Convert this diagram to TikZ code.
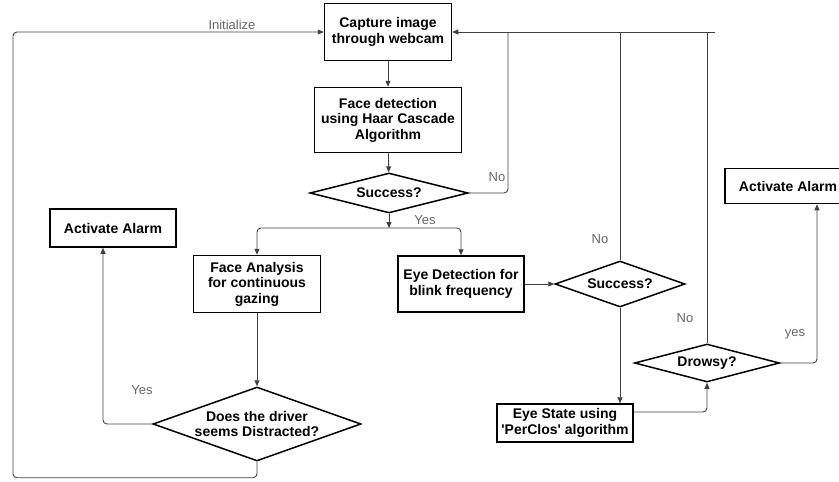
\documentclass[tikz,border=0pt]{standalone}
\usepackage{fontspec}
\setmainfont{Liberation Sans}
\usetikzlibrary{shapes.geometric,arrows.meta}

\begin{document}
\begin{tikzpicture}[x=1pt,y=-1pt]
    \tikzstyle{box}=[draw=black,line width=1.5pt,rectangle,align=center,inner sep=2pt,
        font=\bfseries\fontsize{14}{15.5}\selectfont]
    \tikzstyle{decision}=[draw=black,line width=1.5pt,diamond,align=center,inner sep=0pt,
        font=\bfseries\fontsize{14}{15.5}\selectfont]
    \tikzstyle{flow}=[draw=black!75,line width=0.9pt,rounded corners=4pt]
    \tikzstyle{tip}=[-{Triangle[length=6pt,width=5pt]}]
    \tikzstyle{lbl}=[text=black!60,font=\fontsize{13}{14}\selectfont,inner sep=0pt]

    \useasboundingbox (0,0) rectangle (839,482);
    \clip (0,0) rectangle (839,482);

    \node[box,minimum width=127,minimum height=57] at (388,32) (capture) {Capture image\\through webcam};
    \node[box,minimum width=147,minimum height=65] at (388,120) (facedet) {Face detection\\using Haar Cascade\\Algorithm};
    \node[decision,aspect=3.9,minimum width=158,minimum height=40] at (389,193) (succ1) {Success?};
    \node[box,minimum width=127,minimum height=57] at (257,284) (faceana) {Face Analysis\\for continuous\\gazing};
    \node[box,minimum width=126,minimum height=56] at (461,284) (eyedet) {Eye Detection for\\blink frequency};
    \node[decision,aspect=2.8,minimum width=130,minimum height=46] at (620,284) (succ2) {Success?};
    \node[box,minimum width=136,minimum height=38] at (565,423) (eyestate) {Eye State using\\\textquotesingle PerClos\textquotesingle\ algorithm};
    \node[decision,aspect=3.8,minimum width=145,minimum height=38] at (707,363) (drowsy) {Drowsy?};
    \node[decision,aspect=2.8,minimum width=208,minimum height=74] at (257,424) (distract) {Does the driver\\seems Distracted?};
    \node[box,minimum width=126,minimum height=38] at (113,228) (alarml) {Activate Alarm};
    \node[box,minimum width=126,minimum height=35] at (788,186) (alarmr) {Activate Alarm};

    \coordinate (split) at (389,228);
    \coordinate (topend) at (715,32);

    % main line
    \draw[flow,tip] (capture) -- (facedet);
    \draw[flow,tip] (facedet) -- (succ1);
    \draw[flow,tip] (succ1.south) -- (split);
    \draw[flow,tip] (split) -| (faceana.north);
    \draw[flow,tip] (split) -| (eyedet.north);
    \draw[flow,tip] (faceana) -- (distract);
    \draw[flow,tip] (eyedet) -- (succ2);
    \draw[flow,tip] (succ2.south) -- (succ2.south |- eyestate.north);
    \draw[flow,tip] ([yshift=11]eyestate.east) -| (drowsy.south);

    % back to capture
    \draw[flow,tip] (distract.south) -- ++(0,16) -- ++(-244,0) |- (capture.west);
    \draw[flow,tip] (topend) -- (capture.east);
    \draw[flow] (succ1.east) -| (508,32);
    \draw[flow] (succ2.north) -- (succ2.north |- topend);
    \draw[flow] (drowsy.north) -- (drowsy.north |- topend);

    % alarms
    \draw[flow,tip] (distract.west) -| ([xshift=-10]alarml.south);
    \draw[flow,tip] (drowsy.east) -| ([xshift=29]alarmr.south);

    \node[lbl] at (232,25) (init) {Initialize};
    \node[lbl] at (497,177) (no1) {No};
    \node[lbl] at (425,220) (yes1) {Yes};
    \node[lbl] at (600,239) (no2) {No};
    \node[lbl] at (685,318) (no3) {No};
    \node[lbl] at (795,334) (yes2) {yes};
    \node[lbl] at (142,390) (yes3) {Yes};
\end{tikzpicture}
\end{document}
